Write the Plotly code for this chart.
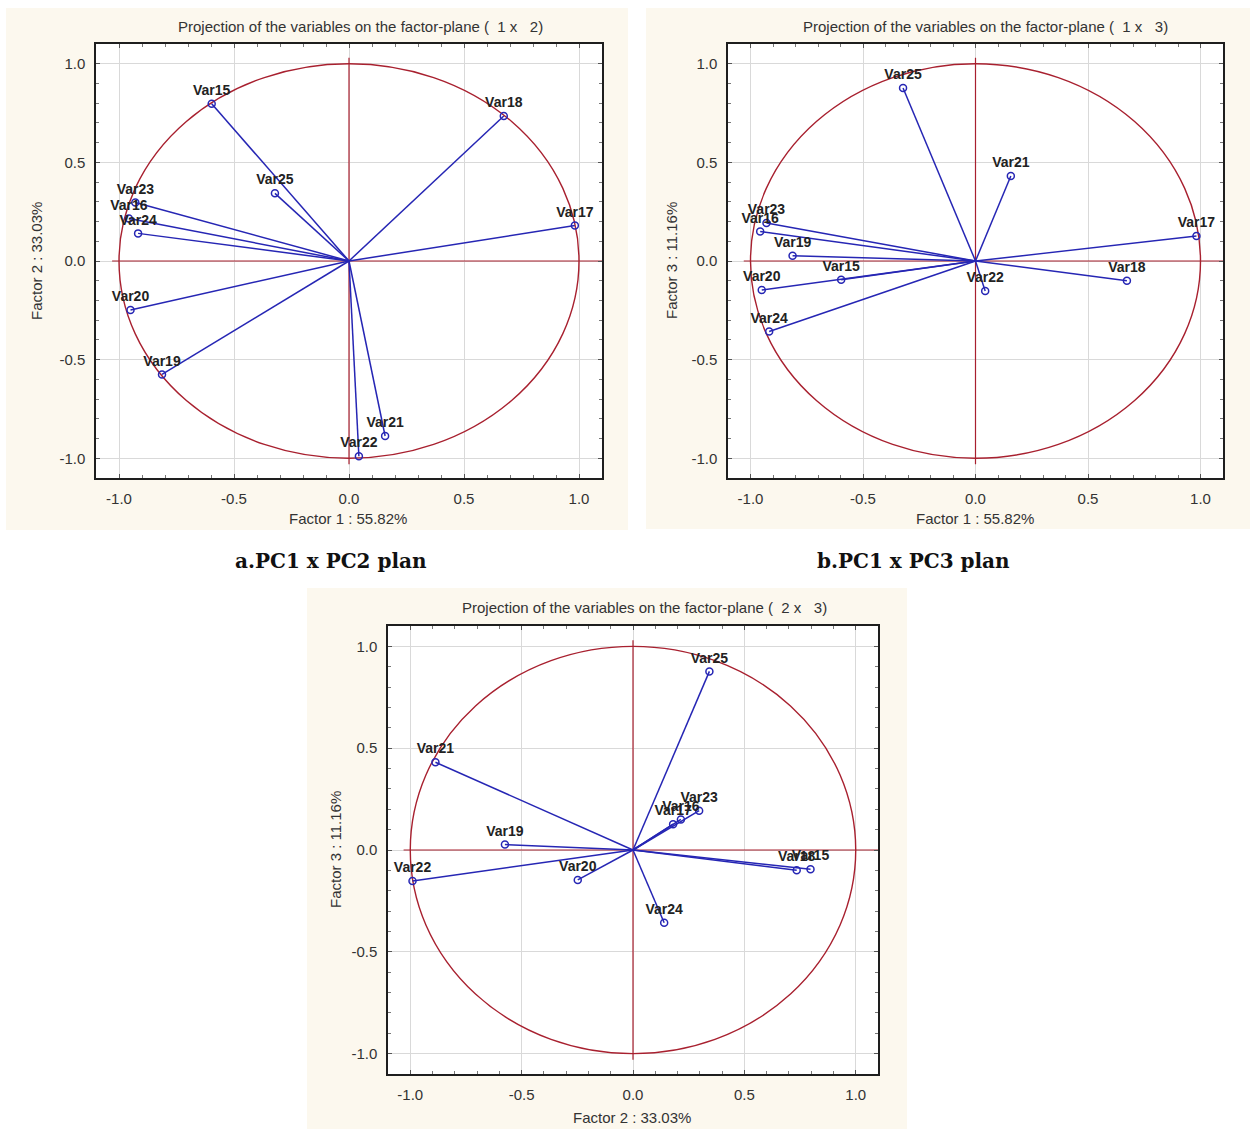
import plotly.graph_objects as go

# ---------------- data ----------------
variables = ["Var15", "Var16", "Var17", "Var18", "Var19", "Var20",
             "Var21", "Var22", "Var23", "Var24", "Var25"]
factor1 = [-0.597, -0.957, 0.982, 0.673, -0.813, -0.950, 0.157, 0.043, -0.929, -0.917, -0.322]
factor2 = [0.797, 0.215, 0.180, 0.735, -0.575, -0.248, -0.887, -0.990, 0.297, 0.140, 0.343]
factor3 = [-0.095, 0.150, 0.127, -0.100, 0.027, -0.147, 0.431, -0.152, 0.193, -0.357, 0.877]

factor_names = ["Factor 1 : 55.82%", "Factor 2 : 33.03%", "Factor 3 : 11.16%"]
tick_vals = [-1.0, -0.5, 0.0, 0.5, 1.0]
tick_text = ["-1.0", "-0.5", "0.0", "0.5", "1.0"]
plane_titles = [
    "Projection of the variables on the factor-plane (\u00a0 1 x \u00a0 2)",
    "Projection of the variables on the factor-plane (\u00a0 1 x \u00a0 3)",
    "Projection of the variables on the factor-plane (\u00a0 2 x \u00a0 3)",
]
captions = ["a.PC1 x PC2 plan", "b.PC1 x PC3 plan"]

factors = [factor1, factor2, factor3]

# ---------------- layout geometry (pixels) ----------------
W, H = 1250, 1129
panels = [
    dict(fx=0, fy=1, plot=(96, 44, 602, 478), bg=(6, 8, 628, 530),
         title=(360, 26), xt=(348, 518), yt=(36, 261)),
    dict(fx=0, fy=2, plot=(728, 44, 1223, 478), bg=(646, 8, 1250, 529),
         title=(986, 26), xt=(975, 518), yt=(671, 261)),
    dict(fx=1, fy=2, plot=(388, 626, 878, 1074), bg=(307, 588, 907, 1129),
         title=(644, 607), xt=(632, 1117), yt=(335, 850)),
]
caption_pos = [(331, 561), (913, 561)]

def px(x):
    return x / W

def py(y):
    return 1 - y / H

BLUE = "#2626b4"
RED = "#a8202f"
FONT = "Liberation Sans, Arial, sans-serif"
BEIGE = "#fcf8ee"

fig = go.Figure()
shapes = []
annotations = []

for i, p in enumerate(panels):
    n = "" if i == 0 else str(i + 1)
    xa, ya = "x" + n, "y" + n
    xs = factors[p["fx"]]
    ys = factors[p["fy"]]

    # vectors from origin
    lx, ly = [], []
    for vx, vy in zip(xs, ys):
        lx += [0, vx, None]
        ly += [0, vy, None]
    fig.add_trace(go.Scatter(x=lx, y=ly, mode="lines", xaxis=xa, yaxis=ya,
                             line=dict(color=BLUE, width=1.5),
                             hoverinfo="skip", showlegend=False))
    fig.add_trace(go.Scatter(x=xs, y=ys, mode="markers+text", xaxis=xa, yaxis=ya,
                             text=variables, textposition="top center",
                             textfont=dict(family=FONT, size=14, color="#222222",
                                           weight="bold"),
                             marker=dict(symbol="circle-open", size=7, color=BLUE,
                                         line=dict(width=1.5, color=BLUE)),
                             showlegend=False))

    x0, y0, x1, y1 = p["plot"]
    axis_common = dict(
        range=[-1.1, 1.1], tickmode="array", tickvals=tick_vals, ticktext=tick_text,
        showgrid=True, gridcolor="#d9d9d9", gridwidth=1, zeroline=False,
        showline=True, linecolor="#1e1e1e", linewidth=1.5, mirror="ticks",
        ticks="inside", ticklen=4, tickcolor="#555555",
        minor=dict(ticks="inside", dtick=0.1, tick0=0, ticklen=3,
                   tickcolor="#777777", showgrid=False),
        tickfont=dict(family=FONT, size=15, color="#333333"),
        ticklabelstandoff=6, fixedrange=True,
    )
    fig.layout["xaxis" + n] = dict(axis_common, domain=[px(x0), px(x1)],
                                   anchor=ya)
    fig.layout["yaxis" + n] = dict(axis_common, domain=[py(y1), py(y0)],
                                   anchor=xa)

    # beige panel + white plot area
    bx0, by0, bx1, by1 = p["bg"]
    shapes.append(dict(type="rect", xref="paper", yref="paper", layer="below",
                       x0=px(bx0), x1=px(bx1), y0=py(by1), y1=py(by0),
                       fillcolor=BEIGE, line=dict(width=0)))
    shapes.append(dict(type="rect", xref="paper", yref="paper", layer="below",
                       x0=px(x0), x1=px(x1), y0=py(y1), y1=py(y0),
                       fillcolor="white", line=dict(width=0)))
    # unit circle and axes cross
    shapes.append(dict(type="circle", xref=xa, yref=ya, layer="between",
                       x0=-1, y0=-1, x1=1, y1=1,
                       line=dict(color=RED, width=1.4)))
    shapes.append(dict(type="line", xref=xa, yref=ya, layer="between",
                       x0=-1.03, x1=1.1, y0=0, y1=0,
                       line=dict(color=RED, width=1.2)))
    shapes.append(dict(type="line", xref=xa, yref=ya, layer="between",
                       x0=0, x1=0, y0=-1.03, y1=1.03,
                       line=dict(color=RED, width=1.2)))

    # titles
    annotations.append(dict(text=plane_titles[i], xref="paper", yref="paper",
                            x=px(p["title"][0]), y=py(p["title"][1]),
                            xanchor="center", yanchor="middle", showarrow=False,
                            font=dict(family=FONT, size=15, color="#333333")))
    annotations.append(dict(text=factor_names[p["fx"]], xref="paper", yref="paper",
                            x=px(p["xt"][0]), y=py(p["xt"][1]),
                            xanchor="center", yanchor="middle", showarrow=False,
                            font=dict(family=FONT, size=15, color="#333333")))
    annotations.append(dict(text=factor_names[p["fy"]], xref="paper", yref="paper",
                            x=px(p["yt"][0]), y=py(p["yt"][1]), textangle=-90,
                            xanchor="center", yanchor="middle", showarrow=False,
                            font=dict(family=FONT, size=15, color="#333333")))

for c, (cx, cy) in zip(captions, caption_pos):
    annotations.append(dict(text="<b>" + c + "</b>", xref="paper", yref="paper",
                            x=px(cx), y=py(cy), xanchor="center", yanchor="middle",
                            showarrow=False,
                            font=dict(family="DejaVu Serif, serif", size=20,
                                      color="#111111")))

fig.update_layout(width=W, height=H, margin=dict(l=0, r=0, t=0, b=0),
                  paper_bgcolor="white", plot_bgcolor="white",
                  shapes=shapes, annotations=annotations, showlegend=False)

fig.write_html("out.html",
               config={"displayModeBar": False},
               post_script="document.body.style.margin='0';"
                           "document.body.style.padding='0';"
                           "document.documentElement.style.overflow='hidden';")
